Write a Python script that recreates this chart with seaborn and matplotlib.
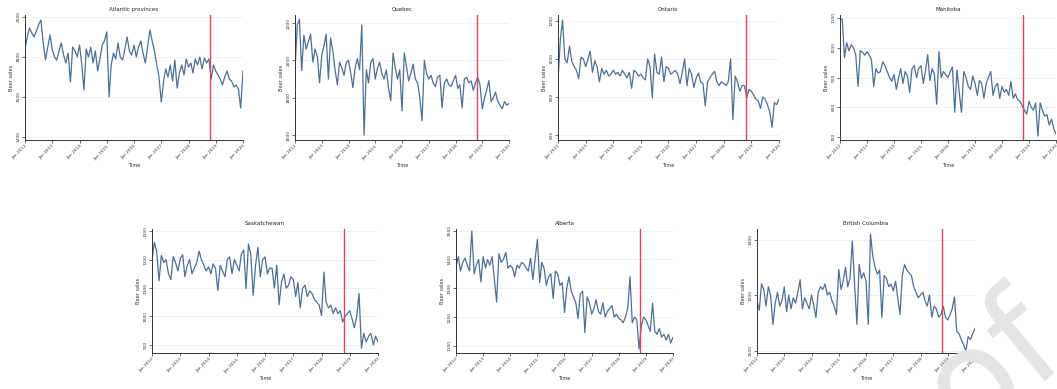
import numpy as np
import pandas as pd
import matplotlib
matplotlib.use("Agg")
import matplotlib.pyplot as plt
import matplotlib.dates as mdates
import seaborn as sns

# ---------------- data ----------------
months = pd.date_range("2012-01-01", "2020-01-01", freq="MS")
policy_date = pd.Timestamp("2018-10-17")

provinces = ["Atlantic provinces", "Quebec", "Ontario", "Manitoba",
             "Saskatchewan", "Alberta", "British Columbia"]

atlantic = [1840, 1900, 1945, 1920, 1900, 1930, 1960, 1985, 1870, 1785, 1850, 1910,
            1835, 1800, 1785, 1830, 1870, 1810, 1770, 1820, 1675, 1850, 1830, 1800,
            1860, 1760, 1635, 1840, 1800, 1850, 1770, 1830, 1730, 1790, 1860, 1880,
            1925, 1600, 1760, 1820, 1790, 1870, 1800, 1785, 1840, 1900, 1830, 1810,
            1860, 1800, 1850, 1880, 1820, 1770, 1850, 1935, 1880, 1830, 1760, 1700,
            1575, 1680, 1740, 1700, 1760, 1680, 1785, 1645, 1720, 1760, 1710, 1790,
            1750, 1770, 1720, 1790, 1760, 1800, 1740, 1795, 1770, 1790, 1690, 1760,
            1730, 1710, 1690, 1660, 1700, 1730, 1690, 1680, 1650, 1660, 1640, 1545, 1730]

quebec = [1950, 2190, 2220, 1946, 2135, 2060, 2100, 2140, 1990, 2060, 2020, 1880,
          2030, 2080, 2140, 1900, 2120, 2050, 1950, 1870, 1990, 1960, 1920, 1990,
          2000, 1930, 1855, 1960, 2010, 1950, 2190, 1600, 1950, 1880, 1990, 2010,
          1900, 1960, 1990, 1930, 1900, 1950, 1850, 1785, 2040, 1960, 1900, 1950,
          1730, 2040, 1970, 1890, 1930, 1980, 1900, 1880, 1800, 1676, 2000, 1930,
          1900, 1920, 1880, 1860, 1910, 1920, 1746, 1880, 1900, 1870, 1860, 1890,
          1920, 1850, 1870, 1746, 1900, 1910, 1880, 1890, 1840, 1880, 1910, 1870,
          1741, 1800, 1840, 1892, 1780, 1800, 1830, 1780, 1760, 1741, 1780, 1760, 1770]

ontario = [887, 1100, 1205, 1000, 980, 1067, 990, 960, 940, 897, 1010, 1000,
           960, 1000, 1041, 930, 990, 960, 880, 950, 920, 940, 910, 920,
           940, 920, 930, 910, 940, 920, 900, 930, 846, 940, 930, 910,
           920, 900, 890, 1000, 960, 795, 1026, 930, 920, 1010, 880, 960,
           950, 920, 930, 940, 920, 870, 930, 1000, 860, 950, 920, 850,
           900, 925, 880, 870, 754, 880, 900, 920, 935, 880, 860, 880,
           870, 860, 880, 1000, 682, 910, 880, 830, 860, 860, 795, 840,
           830, 810, 790, 780, 740, 800, 790, 760, 720, 641, 770, 760, 790]

manitoba = [1100, 1095, 967, 1017, 990, 1010, 1000, 975, 870, 990, 985, 975,
            987, 975, 960, 870, 930, 915, 920, 953, 940, 920, 900, 887,
            910, 860, 895, 930, 880, 920, 905, 850, 930, 940, 900, 930,
            940, 880, 920, 977, 890, 930, 910, 810, 987, 900, 920, 910,
            900, 920, 935, 783, 925, 850, 783, 920, 900, 870, 860, 905,
            880, 840, 890, 880, 830, 880, 900, 920, 840, 870, 880, 830,
            870, 850, 860, 840, 887, 830, 845, 825, 820, 805, 790, 777,
            820, 800, 790, 815, 703, 815, 790, 770, 775, 740, 760, 730, 710]

saskatchewan = [1200, 1261, 1230, 1125, 1215, 1190, 1200, 1150, 1130, 1210, 1190, 1160,
                1205, 1217, 1140, 1180, 1200, 1150, 1170, 1190, 1230, 1200, 1180, 1160,
                1175, 1150, 1185, 1170, 1091, 1180, 1160, 1140, 1200, 1210, 1150, 1200,
                1180, 1160, 1220, 1234, 1098, 1255, 1220, 1075, 1180, 1244, 1140, 1200,
                1210, 1150, 1170, 1170, 1100, 1180, 1041, 1120, 1150, 1100, 1110, 1140,
                1130, 1070, 1120, 1030, 1100, 1110, 1070, 1090, 1080, 1060, 1050, 1040,
                1003, 1156, 1050, 1030, 1040, 1010, 1030, 1010, 1020, 980, 1000, 1010,
                1020, 990, 960, 1000, 1081, 888, 940, 910, 930, 940, 900, 930, 910]

alberta = [1375, 1410, 1360, 1390, 1405, 1380, 1360, 1499, 1350, 1380, 1400, 1322,
           1410, 1370, 1400, 1380, 1410, 1330, 1252, 1420, 1390, 1400, 1425, 1370,
           1380, 1370, 1340, 1380, 1370, 1390, 1385, 1370, 1360, 1405, 1330, 1400,
           1470, 1320, 1390, 1370, 1310, 1340, 1350, 1265, 1360, 1350, 1310, 1320,
           1216, 1300, 1340, 1290, 1270, 1250, 1195, 1280, 1290, 1146, 1270, 1250,
           1210, 1230, 1260, 1220, 1210, 1250, 1200, 1220, 1230, 1240, 1200, 1210,
           1195, 1190, 1180, 1200, 1230, 1340, 1180, 1200, 1190, 1089, 1170, 1200,
           1190, 1170, 1150, 1248, 1150, 1140, 1160, 1130, 1140, 1120, 1140, 1110, 1130]

british_columbia = [1180, 1145, 1240, 1220, 1160, 1230, 1200, 1094, 1170, 1210, 1160, 1180,
                    1230, 1140, 1200, 1150, 1190, 1170, 1210, 1255, 1150, 1190, 1170, 1150,
                    1200, 1160, 1119, 1210, 1230, 1220, 1240, 1200, 1210, 1180, 1160, 1130,
                    1292, 1220, 1250, 1300, 1230, 1260, 1395, 1240, 1094, 1310, 1260, 1280,
                    1250, 1094, 1420, 1340, 1300, 1275, 1290, 1119, 1270, 1260, 1230, 1240,
                    1215, 1250, 1190, 1130, 1270, 1310, 1290, 1280, 1270, 1230, 1210, 1190,
                    1200, 1210, 1180, 1160, 1200, 1120, 1160, 1150, 1120, 1130, 1160, 1120,
                    1110, 1130, 1150, 1193, 1070, 1060, 1040, 1020, 998, 1050, 1040, 1060, 1080]

series = [atlantic, quebec, ontario, manitoba, saskatchewan, alberta, british_columbia]

yticks = [
    [1400, 1600, 1800, 2000],
    [1600, 1800, 2000, 2200],
    [600, 800, 1000, 1200],
    [700, 800, 900, 1000, 1100],
    [900, 1000, 1100, 1200, 1300],
    [1100, 1200, 1300, 1400, 1500],
    [1000, 1200, 1400],
]
ylims = [(1385, 2010), (1574, 2243), (574, 1231), (690, 1110),
         (871, 1308), (1075, 1506), (991, 1438)]

df = pd.concat([pd.DataFrame({"Time": months, "Beer sales": v, "province": p})
                for p, v in zip(provinces, series)], ignore_index=True)

# ---------------- layout ----------------
W, H = 1057, 389
# (left, top, right, bottom) in pixels
boxes = [(25, 15, 243, 140), (295, 15, 509, 140), (558, 15, 779, 140), (840, 15, 1056, 140),
         (152, 229, 378, 353), (456, 229, 673, 353), (757, 229, 975, 353)]

sns.set_style("white")
plt.rcParams["font.family"] = ["DejaVu Sans"]
fig = plt.figure(figsize=(W / 100, H / 100), dpi=100)
fig.patch.set_facecolor("white")

line_color = "#4d6f96"
red = "#d8475e"

for i, p in enumerate(provinces):
    l, t, r, b = boxes[i]
    ax = fig.add_axes([l / W, (H - b) / H, (r - l) / W, (b - t) / H])
    sub = df[df["province"] == p]
    sns.lineplot(data=sub, x="Time", y="Beer sales", ax=ax, color=line_color, lw=0.9)
    ax.axvline(policy_date, color=red, lw=1.0)
    ax.set_xlim(months[0], months[-1])
    ax.set_ylim(*ylims[i])
    ax.set_yticks(yticks[i])
    ax.xaxis.set_major_locator(mdates.YearLocator())
    ax.xaxis.set_major_formatter(mdates.DateFormatter("%b %Y"))
    ax.yaxis.grid(True, color="#ececec", lw=0.5)
    ax.xaxis.grid(False)
    for s in ["top", "right"]:
        ax.spines[s].set_visible(False)
    for s in ["left", "bottom"]:
        ax.spines[s].set_color("#333333")
        ax.spines[s].set_linewidth(0.7)
    ax.tick_params(axis="both", which="major", length=2, width=0.5, pad=1,
                   labelsize=3.2, colors="#333333", left=True, bottom=True)
    for lab in ax.get_xticklabels():
        lab.set_rotation(45)
        lab.set_ha("right")
        lab.set_rotation_mode("anchor")
    for lab in ax.get_yticklabels():
        lab.set_rotation(90)
        lab.set_va("center")
    ax.set_title(p, fontsize=4, pad=3, color="#222222")
    ax.set_xlabel("Time", fontsize=3.6, labelpad=2, color="#333333")
    ax.set_ylabel("Beer sales", fontsize=3.6, labelpad=2, color="#333333")

# faint watermark in lower right corner (cut off by the edge, as in the reference)
fig.text(1068 / W, 1 - 350 / H, "Proof", fontsize=100, color="#e4e4e4", rotation=40,
         rotation_mode="anchor", ha="right", va="baseline", zorder=10)

fig.savefig("out.png", dpi=100, facecolor="white")
